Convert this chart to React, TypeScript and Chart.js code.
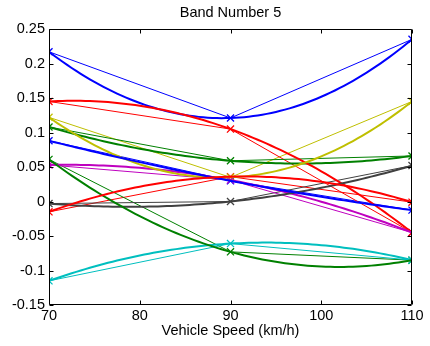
import { useEffect, useRef } from "react";
import { Chart, registerables } from "chart.js";

Chart.register(...registerables);

// Measured speeds (x) and band-5 values per series
const speeds = [70, 90, 110];
const xTicks = [70, 80, 90, 100, 110];
const yTicks = [-0.15, -0.1, -0.05, 0, 0.05, 0.1, 0.15, 0.2, 0.25];

const series1 = [0.217, 0.121, 0.235];
const series2 = [0.108, 0.059, 0.066];
const series3 = [0.145, 0.105, -0.045];
const series4 = [-0.115, -0.061, -0.085];
const series5 = [0.053, 0.031, -0.045];
const series6 = [0.122, 0.035, 0.145];
const series7 = [-0.003, 0.0, 0.052];
const series8 = [0.088, 0.03, -0.0125];
const series9 = [0.061, -0.073, -0.085];
const series10 = [-0.015, 0.036, -0.001];

const allSeries = [series1, series2, series3, series4, series5, series6, series7, series8, series9, series10];
const colors = ["#0000ff", "#008000", "#ff0000", "#00bfbf", "#bf00bf", "#bfbf00", "#404040", "#0000ff", "#008000", "#ff0000"];

const FONT = "'Liberation Sans', Arial, Helvetica, sans-serif";
const FS = 14.5;

// Draws the quadratic fit through each series' points, plus a MATLAB-style box with inward ticks
const matlabPlugin = {
  id: "matlabPlugin",
  afterDatasetsDraw(chart: any) {
    const { ctx, chartArea: a, scales } = chart;
    const xs = scales.x;
    const ys = scales.y;
    ctx.save();
    ctx.beginPath();
    ctx.rect(a.left, a.top, a.right - a.left, a.bottom - a.top);
    ctx.clip();
    chart.data.datasets.forEach((ds: any) => {
      const pts = ds.data as { x: number; y: number }[];
      const [p0, p1, p2] = pts;
      const f = (x: number) =>
        p0.y * ((x - p1.x) * (x - p2.x)) / ((p0.x - p1.x) * (p0.x - p2.x)) +
        p1.y * ((x - p0.x) * (x - p2.x)) / ((p1.x - p0.x) * (p1.x - p2.x)) +
        p2.y * ((x - p0.x) * (x - p1.x)) / ((p2.x - p0.x) * (p2.x - p1.x));
      ctx.beginPath();
      const n = 80;
      for (let i = 0; i <= n; i++) {
        const x = p0.x + ((p2.x - p0.x) * i) / n;
        const px = xs.getPixelForValue(x);
        const py = ys.getPixelForValue(f(x));
        if (i === 0) ctx.moveTo(px, py);
        else ctx.lineTo(px, py);
      }
      ctx.strokeStyle = ds.borderColor;
      ctx.lineWidth = 2;
      ctx.lineJoin = "round";
      ctx.stroke();
    });
    ctx.restore();

    ctx.save();
    ctx.strokeStyle = "#000";
    ctx.lineWidth = 1;
    const L = Math.round(a.left) + 0.5;
    const R = Math.round(a.right) - 0.5;
    const T = Math.round(a.top) + 0.5;
    const B = Math.round(a.bottom) - 0.5;
    ctx.beginPath();
    ctx.rect(L, T, R - L, B - T);
    ctx.stroke();
    const tl = 4;
    ctx.beginPath();
    xTicks.forEach((v) => {
      const px = Math.round(xs.getPixelForValue(v)) + 0.5;
      ctx.moveTo(px, B);
      ctx.lineTo(px, B - tl);
      ctx.moveTo(px, T);
      ctx.lineTo(px, T + tl);
    });
    yTicks.forEach((v) => {
      const py = Math.round(ys.getPixelForValue(v)) + 0.5;
      ctx.moveTo(L, py);
      ctx.lineTo(L + tl, py);
      ctx.moveTo(R, py);
      ctx.lineTo(R - tl, py);
    });
    ctx.stroke();
    ctx.restore();
  },
};

export default function App() {
  const ref = useRef<HTMLCanvasElement | null>(null);

  useEffect(() => {
    if (!ref.current) return;
    Chart.defaults.font.family = FONT;
    Chart.defaults.font.size = FS;
    Chart.defaults.color = "#000";

    const datasets = allSeries.map((vals, i) => ({
      label: `Series ${i + 1}`,
      data: speeds.map((x, j) => ({ x, y: vals[j] })),
      borderColor: colors[i],
      backgroundColor: "transparent",
      borderWidth: 1,
      tension: 0,
      pointStyle: "crossRot" as const,
      pointRadius: 5,
      pointBorderWidth: 1.3,
      pointBorderColor: colors[i],
      pointBackgroundColor: "transparent",
      fill: false,
    }));

    const chart = new Chart(ref.current, {
      type: "line",
      data: { datasets },
      options: {
        animation: false,
        responsive: false,
        maintainAspectRatio: false,
        devicePixelRatio: 1,
        layout: { padding: { left: 0, right: 18, top: 0, bottom: 0 } },
        plugins: {
          legend: { display: false },
          tooltip: { enabled: false },
          title: {
            display: true,
            text: "Band Number 5",
            fullSize: false,
            color: "#000",
            font: { family: FONT, size: FS, weight: "normal" },
            padding: { top: 4.6, bottom: 7 },
          },
        },
        scales: {
          x: {
            type: "linear",
            min: 70,
            max: 110,
            afterBuildTicks: (s: any) => {
              s.ticks = xTicks.map((v) => ({ value: v }));
            },
            afterFit: (s: any) => {
              s.height = 41;
            },
            grid: { display: false, drawTicks: false },
            border: { display: false },
            ticks: { padding: 2, color: "#000", maxRotation: 0, autoSkip: false, font: { family: FONT, size: FS } },
            title: {
              display: true,
              text: "Vehicle Speed (km/h)",
              color: "#000",
              font: { family: FONT, size: FS },
              padding: { top: 0, bottom: 6.3 },
            },
          },
          y: {
            type: "linear",
            min: -0.15,
            max: 0.25,
            afterBuildTicks: (s: any) => {
              s.ticks = yTicks.map((v) => ({ value: v }));
            },
            afterFit: (s: any) => {
              s.width = 49;
            },
            grid: { display: false, drawTicks: false },
            border: { display: false },
            ticks: {
              padding: 4,
              color: "#000",
              autoSkip: false,
              font: { family: FONT, size: FS },
              callback: (v: any) => String(Number(Number(v).toFixed(2))),
            },
          },
        },
      },
      plugins: [matlabPlugin],
    });
    return () => chart.destroy();
  }, []);

  return (
    <div style={{ position: "absolute", left: 0, top: 0, width: 430, height: 346, background: "#fff" }}>
      <canvas ref={ref} width={430} height={346} style={{ display: "block", width: 430, height: 346 }} />
    </div>
  );
}
